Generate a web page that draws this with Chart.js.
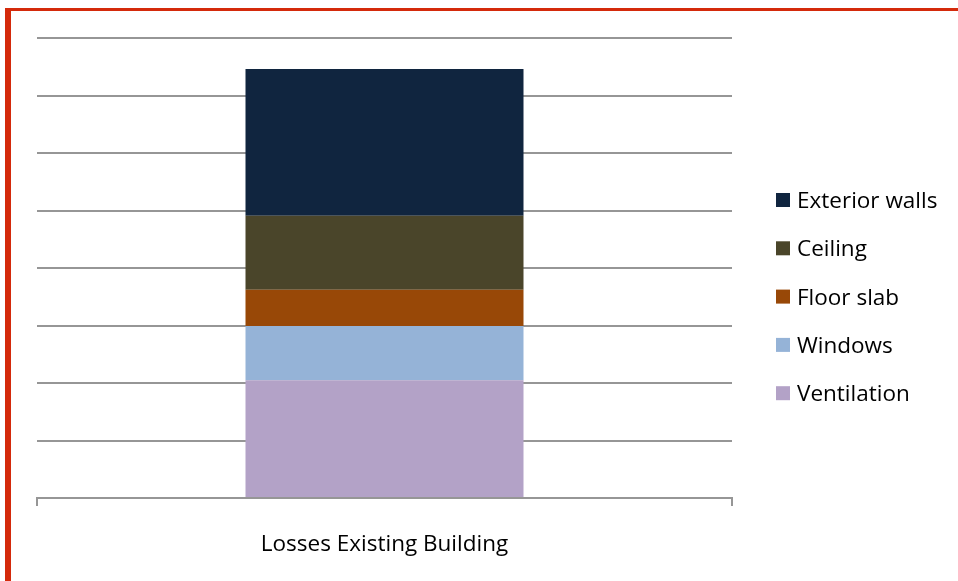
<!DOCTYPE html>
<html>
<head>
<meta charset="utf-8">
<script src="https://cdn.jsdelivr.net/npm/chart.js@4.4.1/dist/chart.umd.min.js"></script>
<style>
  html, body { margin: 0; padding: 0; background: #fff; overflow: hidden; }
  #frame {
    position: absolute; left: 5px; top: 8px; width: 2000px; height: 2000px;
    border-left: 6px solid #d42a0b; border-top: 3px solid #d42a0b;
  }
  #wrap { position: absolute; left: 0; top: 0; width: 958px; height: 581px; }
</style>
</head>
<body>
<div id="frame"></div>
<div id="wrap"><canvas id="chart" width="958" height="581"></canvas></div>
<script>
// Heat loss breakdown, single stacked column
const categories = ['Losses Existing Building'];
const seriesNames = ['Ventilation', 'Windows', 'Floor slab', 'Ceiling', 'Exterior walls'];
const seriesColors = ['#b3a2c7', '#95b3d7', '#984807', '#4a452a', '#10253f'];
const ventilation = [20.5];
const windows = [9.4];
const floorSlab = [6.3];
const ceiling = [12.9];
const exteriorWalls = [25.5];
const seriesValues = [ventilation, windows, floorSlab, ceiling, exteriorWalls];

const FONT = '"Open Sans", Lato, sans-serif';
const GRID = '#969696';

// legend drawn at the right, top entry = last stacked series
const sideLegend = {
  id: 'sideLegend',
  afterDraw(chart) {
    const ctx = chart.ctx;
    const ds = chart.data.datasets.slice().reverse();
    ctx.save();
    ctx.font = '22.5px ' + FONT;
    ctx.textBaseline = 'middle';
    ctx.textAlign = 'left';
    ds.forEach((d, i) => {
      const y = 200 + i * 48.3;
      ctx.fillStyle = d.backgroundColor;
      ctx.fillRect(776, y - 7, 14, 14);
      ctx.fillStyle = '#000';
      ctx.fillText(d.label, 797, y + 1.5);
    });
    ctx.restore();
  }
};

const chart = new Chart(document.getElementById('chart'), {
  type: 'bar',
  data: {
    labels: categories,
    datasets: seriesNames.map((name, i) => ({
      label: name,
      data: seriesValues[i],
      backgroundColor: seriesColors[i],
      borderWidth: 0,
      barPercentage: 0.4,
      categoryPercentage: 1.0
    }))
  },
  options: {
    responsive: false,
    animation: false,
    layout: { padding: { left: 37, right: 226, top: 38, bottom: 0 } },
    scales: {
      x: {
        stacked: true,
        afterFit(scale) { scale.height = 83; },
        grid: { drawOnChartArea: false, offset: true, tickLength: 8, color: GRID, lineWidth: 2 },
        border: { display: true, color: GRID, width: 2 },
        ticks: { color: '#000', font: { family: FONT, size: 22.5 }, padding: 25 }
      },
      y: {
        stacked: true,
        min: 0,
        max: 80,
        afterFit(scale) { scale.width = 0; },
        ticks: { display: false, stepSize: 10 },
        grid: { drawTicks: false, color: GRID, lineWidth: 2 },
        border: { display: false }
      }
    },
    plugins: {
      legend: { display: false },
      tooltip: { enabled: false }
    }
  },
  plugins: [sideLegend]
});
</script>
</body>
</html>
